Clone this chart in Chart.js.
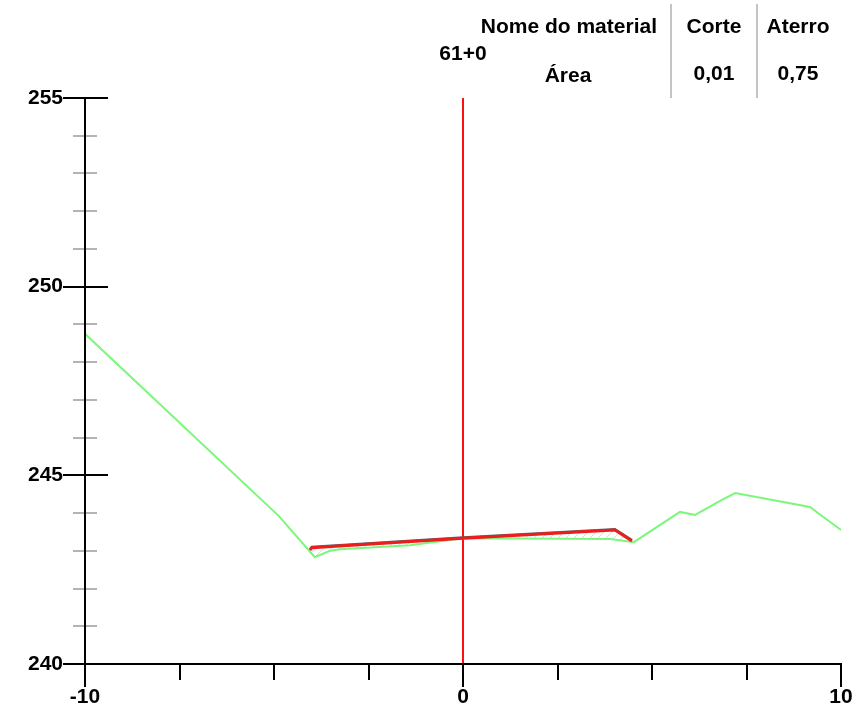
<!DOCTYPE html>
<html>
<head>
<meta charset="utf-8">
<title>Seção 61+0</title>
<script src="https://cdn.jsdelivr.net/npm/chart.js@4/dist/chart.umd.min.js"></script>
<style>
    html, body { margin: 0; padding: 0; background: #fff; }
    #wrap { position: relative; width: 855px; height: 707px; font-family: "Liberation Sans", Arial, sans-serif; font-weight: bold; font-size: 21px; line-height: 21px; color: #000; }
    #wrap canvas { position: absolute; left: 0; top: 0; }
    .txt { position: absolute; white-space: nowrap; }
    .mid { transform: translateX(-50%); }
    .sep { position: absolute; width: 2px; background: #c4c4c4; }
</style>
</head>
<body>
<div id="wrap">
    <canvas id="sectionChart" width="855" height="707"></canvas>
    <div class="txt" style="right:198px; top:15px;">Nome do material</div>
    <div class="txt mid" style="left:714px; top:15px;">Corte</div>
    <div class="txt mid" style="left:798px; top:15px;">Aterro</div>
    <div class="txt mid" style="left:463px; top:42px;">61+0</div>
    <div class="txt mid" style="left:568px; top:64px;">Área</div>
    <div class="txt mid" style="left:714px; top:62px;">0,01</div>
    <div class="txt mid" style="left:798px; top:62px;">0,75</div>
    <div class="sep" style="left:670px; top:4px; height:94px;"></div>
    <div class="sep" style="left:756px; top:4px; height:94px;"></div>
</div>
<script>
// terreno natural (verde)
const groundX = [-10, -4.87, -3.92, -3.52, -3.25, -1.40, 0, 3.89, 4.52, 5.74, 6.14, 6.85, 7.2, 9.18, 9.39, 10];
const groundY = [248.75, 243.92, 242.83, 243.0, 243.04, 243.15, 243.33, 243.31, 243.23, 244.03, 243.95, 244.35, 244.53, 244.16, 244.0, 243.55];

// projeto (vermelho) e contorno escuro
const designX = [-4.05, -4.0, 0, 4.02, 4.47];
const designY = [243.02, 243.08, 243.33, 243.55, 243.26];
const edgeY = [243.05, 243.11, 243.36, 243.58, 243.29];

// eixo central
const centerX = [0, 0];
const centerY = [240, 255];

const xMin = -10, xMax = 10, xStep = 2.5;
const yMin = 240, yMax = 255, yStep = 1;
const xLabels = [-10, 0, 10];
const yLabels = [240, 245, 250, 255];

function toPoints(xs, ys) {
    return xs.map((x, i) => ({ x: x, y: ys[i] }));
}

function hatchPattern() {
    const c = document.createElement("canvas");
    c.width = 8;
    c.height = 8;
    const g = c.getContext("2d");
    g.strokeStyle = "rgba(240,150,230,0.55)";
    g.lineWidth = 1;
    g.beginPath();
    g.moveTo(0, 8);
    g.lineTo(8, 0);
    g.stroke();
    return g.createPattern(c, "repeat");
}

// eixos desenhados a partir das escalas do Chart.js
const axesPlugin = {
    id: "axes",
    afterDatasetsDraw(chart) {
        const ctx = chart.ctx;
        const xs = chart.scales.x;
        const ys = chart.scales.y;
        const left = xs.getPixelForValue(xMin);
        const right = xs.getPixelForValue(xMax);
        const top = ys.getPixelForValue(yMax);
        const bottom = ys.getPixelForValue(yMin);

        ctx.save();
        ctx.lineCap = "butt";

        // marcas menores do eixo y
        ctx.strokeStyle = "#b4b4b4";
        ctx.lineWidth = 2;
        for (let v = yMin; v <= yMax; v += yStep) {
            if (yLabels.includes(v)) continue;
            const py = Math.round(ys.getPixelForValue(v));
            ctx.beginPath();
            ctx.moveTo(left - 12, py);
            ctx.lineTo(left + 12, py);
            ctx.stroke();
        }

        ctx.strokeStyle = "#000";
        ctx.lineWidth = 2;

        // eixo y
        ctx.beginPath();
        ctx.moveTo(left, top);
        ctx.lineTo(left, bottom + 23);
        ctx.stroke();

        // marcas maiores do eixo y
        yLabels.forEach(v => {
            const py = Math.round(ys.getPixelForValue(v));
            ctx.beginPath();
            ctx.moveTo(left - 22, py);
            ctx.lineTo(left + 23, py);
            ctx.stroke();
        });

        // eixo x
        ctx.beginPath();
        ctx.moveTo(left - 22, bottom);
        ctx.lineTo(right + 1, bottom);
        ctx.stroke();

        for (let v = xMin; v <= xMax; v += xStep) {
            const px = Math.round(xs.getPixelForValue(v));
            const len = xLabels.includes(v) ? 23 : 16;
            ctx.beginPath();
            ctx.moveTo(px, bottom);
            ctx.lineTo(px, bottom + len);
            ctx.stroke();
        }
        ctx.restore();
    }
};

function createChart() {
    const ctx = document.getElementById("sectionChart").getContext("2d");

    new Chart(ctx, {
        type: "scatter",
        data: {
            datasets: [
                {
                    label: "Eixo",
                    data: toPoints(centerX, centerY),
                    showLine: true,
                    borderColor: "#ff1010",
                    borderWidth: 2,
                    pointRadius: 0,
                    order: 5
                },
                {
                    label: "Contorno",
                    data: toPoints(designX, edgeY),
                    showLine: true,
                    borderColor: "#606060",
                    borderWidth: 2,
                    pointRadius: 0,
                    order: 4
                },
                {
                    label: "Projeto",
                    data: toPoints(designX, designY),
                    showLine: true,
                    borderColor: "#ee1c1c",
                    borderWidth: 3,
                    pointRadius: 0,
                    fill: { target: 3 },
                    backgroundColor: hatchPattern(),
                    order: 2
                },
                {
                    label: "Terreno",
                    data: toPoints(groundX, groundY),
                    showLine: true,
                    borderColor: "#7cf77c",
                    borderWidth: 2,
                    pointRadius: 0,
                    order: 3
                }
            ]
        },
        options: {
            responsive: false,
            animation: false,
            layout: { padding: { top: 98, right: 14, left: 0, bottom: 0 } },
            plugins: {
                legend: { display: false },
                tooltip: { enabled: false }
            },
            scales: {
                x: {
                    type: "linear",
                    min: xMin,
                    max: xMax,
                    grid: { display: false },
                    border: { display: false },
                    afterFit: scale => {
                        scale.height = 43;
                        scale.paddingLeft = 0;
                        scale.paddingRight = 0;
                    },
                    ticks: {
                        stepSize: xStep,
                        autoSkip: false,
                        maxRotation: 0,
                        padding: 13,
                        color: "#000",
                        font: { family: "Liberation Sans", size: 21, weight: "bold" },
                        callback: v => xLabels.includes(v) ? String(v) : ""
                    }
                },
                y: {
                    type: "linear",
                    min: yMin,
                    max: yMax,
                    grid: { display: false },
                    border: { display: false },
                    afterFit: scale => {
                        scale.width = 85;
                        scale.paddingTop = 0;
                        scale.paddingBottom = 0;
                    },
                    ticks: {
                        stepSize: yStep,
                        autoSkip: false,
                        padding: 14,
                        color: "#000",
                        font: { family: "Liberation Sans", size: 21, weight: "bold" },
                        callback: v => yLabels.includes(v) ? String(v) : ""
                    }
                }
            }
        },
        plugins: [axesPlugin]
    });
}

window.onload = createChart;
</script>
</body>
</html>
